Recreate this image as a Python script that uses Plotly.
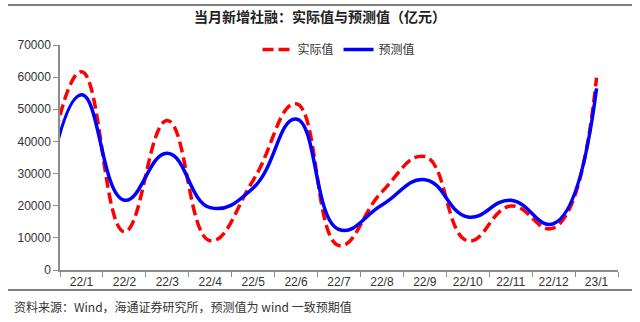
import plotly.graph_objects as go

# Data
months = ["21/12", "22/1", "22/2", "22/3", "22/4", "22/5", "22/6", "22/7",
          "22/8", "22/9", "22/10", "22/11", "22/12", "23/1"]
actual = [14000, 61700, 11900, 46500, 9100, 27900, 51700, 7600,
          24300, 35300, 9100, 19900, 13100, 59800]
forecast = [10000, 54500, 21700, 36300, 19400, 25500, 47000, 12600,
            20200, 28100, 16500, 21700, 14400, 56500]
pos = [i - 1 for i in range(len(months))]
shown_labels = months[1:]
shown_pos = pos[1:]
y_ticks = [0, 10000, 20000, 30000, 40000, 50000, 60000, 70000]
y_tick_text = [str(v) for v in y_ticks]

fig = go.Figure()
fig.add_trace(go.Scatter(
    x=pos, y=actual, name="实际值", mode="lines",
    line=dict(color="#FF0000", width=3.5, dash="11px,5px", shape="spline", smoothing=1.3),
))
fig.add_trace(go.Scatter(
    x=pos, y=forecast, name="预测值", mode="lines",
    line=dict(color="#0000FF", width=3.5, shape="spline", smoothing=1.3),
))

axis_color = "#8c8c8c"
tick_font = dict(family="Liberation Sans, Arial, sans-serif", size=12, color="#333333")

fig.update_layout(
    width=640, height=322,
    margin=dict(l=60, r=22, t=45, b=52),
    paper_bgcolor="white", plot_bgcolor="white",
    showlegend=True,
    legend=dict(orientation="h", x=0.5, xanchor="center", y=0.98, yanchor="middle",
                font=dict(family="Noto Sans CJK SC", size=12, color="#333333"),
                bgcolor="rgba(0,0,0,0)", itemwidth=30, tracegroupgap=0),
    title=dict(text="<b>当月新增社融：实际值与预测值（亿元）</b>",
               x=0.5, xanchor="center", y=1 - 17 / 322, yanchor="middle",
               font=dict(family="Noto Sans CJK SC", size=14, color="#222222")),
    xaxis=dict(
        range=[-0.5, len(shown_pos) - 0.5], tickmode="array",
        tickvals=shown_pos, ticktext=shown_labels, ticks="",
        showline=True, linecolor=axis_color, linewidth=1.5,
        showgrid=False, zeroline=False, tickfont=tick_font,
        minor=dict(tickmode="linear", tick0=-0.5, dtick=1, ticks="outside",
                   ticklen=5, tickcolor=axis_color, tickwidth=1, showgrid=False),
    ),
    yaxis=dict(
        range=[0, 70000], tickmode="array", tickvals=y_ticks, ticktext=y_tick_text,
        ticks="outside", ticklen=5, tickcolor=axis_color,
        showline=True, linecolor=axis_color, linewidth=1.5,
        showgrid=False, zeroline=False, tickfont=tick_font,
    ),
)

# Decorative rules
fig.add_shape(type="line", xref="paper", yref="paper",
              x0=-52 / 558, x1=572 / 558, y0=(270 - 5) / 225, y1=(270 - 5) / 225,
              line=dict(color="#555555", width=1.5))
fig.add_shape(type="line", xref="paper", yref="paper",
              x0=-52 / 558, x1=572 / 558, y0=-20 / 225, y1=-20 / 225,
              line=dict(color="#555555", width=1.5))

fig.add_annotation(
    text="资料来源：Wind，海通证券研究所，预测值为 wind 一致预期值",
    xref="paper", yref="paper", x=-48 / 558, y=-36 / 225,
    xanchor="left", yanchor="middle", showarrow=False,
    font=dict(family="Noto Sans CJK SC", size=12, color="#333333"),
)

fig.write_html("out.html")
